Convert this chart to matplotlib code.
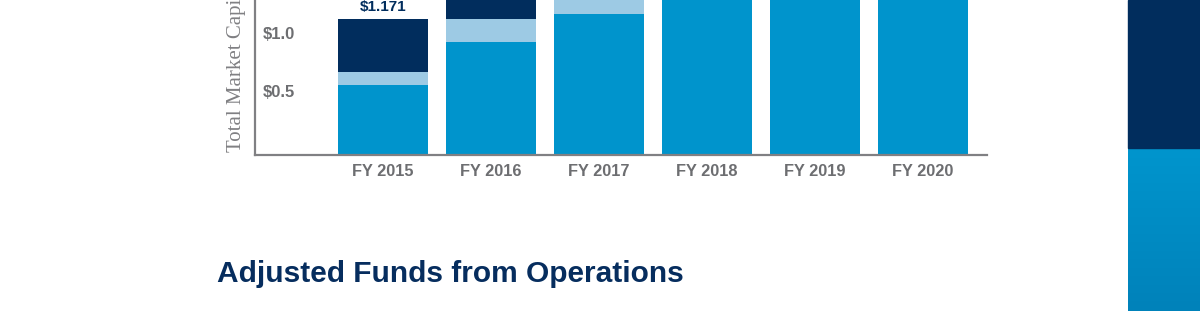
import matplotlib.pyplot as plt
import numpy as np
from matplotlib.patches import Rectangle
import matplotlib.transforms as mtransforms
from matplotlib.colors import LinearSegmentedColormap

# data (upper parts of FY2016+ are cut off in the source, so those are estimates)
years = ['FY 2015', 'FY 2016', 'FY 2017', 'FY 2018', 'FY 2019', 'FY 2020']
seg_base = [0.603, 0.977, 1.218, 1.45, 1.75, 2.05]
seg_mid = [0.112, 0.193, 0.20, 0.25, 0.28, 0.30]
seg_top = [0.456, 0.45, 0.55, 0.60, 0.70, 0.80]
yticks = [0.5, 1.0]
ytick_labels = ['$0.5', '$1.0']

navy = '#012d5d'
light = '#9dcae4'
blue = '#0094cc'
grey = '#6d6e71'

W, H = 1200, 311
fig = plt.figure(figsize=(W / 100, H / 100), dpi=100)

ax = fig.add_axes([254.7 / W, 1 - 155 / H, (986.7 - 254.7) / W, 155 / H])
x = np.arange(len(years))
base = np.array(seg_base)
mid = np.array(seg_mid)
top = np.array(seg_top)
ax.bar(x, base, width=0.833, color=blue, linewidth=0)
ax.bar(x, mid, bottom=base, width=0.833, color=light, linewidth=0)
ax.bar(x, top, bottom=base + mid, width=0.833, color=navy, linewidth=0)

totals = base + mid + top
for xi, t in zip(x, totals):
    if t < 1.3:
        ax.text(xi, t + 0.105, '$%.3f' % t, ha='center', va='center',
                color=navy, fontsize=11, fontweight='bold', family='Liberation Sans')

ax.set_xlim(-1.185, 5.594)
ax.set_ylim(0, 155 / 116)
ax.set_xticks(x)
ax.set_xticklabels(years, fontsize=11.8, fontweight='bold', color=grey, family='Liberation Sans')
ax.tick_params(axis='x', length=0, pad=6.5)
ax.set_yticks([])
trans = mtransforms.blended_transform_factory(ax.transAxes, ax.transData)
for v, lab in zip(yticks, ytick_labels):
    ax.text(8.3 / 732, v + 0.04, lab, transform=trans, ha='left', va='center',
            fontsize=12, fontweight='bold', color=grey, family='Liberation Sans')

for s in ['top', 'right']:
    ax.spines[s].set_visible(False)
for s in ['left', 'bottom']:
    ax.spines[s].set_color('#808083')
    ax.spines[s].set_linewidth(1.6)

fig.text(237 / W, 1 - 152 / H, 'Total Market Capitalization', rotation=90,
         ha='center', va='bottom', fontsize=15, color='#808083', family='Liberation Serif')

fig.text(217 / W, 1 - 282 / H, 'Adjusted Funds from Operations', ha='left', va='baseline',
         fontsize=21.5, fontweight='bold', color='#062d5e', family='Liberation Sans')

# side band
fig.patches.append(Rectangle((1128 / W, 1 - 148 / H), 72 / W, 148 / H,
                             transform=fig.transFigure, color=navy, zorder=0))
gax = fig.add_axes([1128 / W, 0, 72 / W, 1 - 148 / H])
grad = np.linspace(0, 1, 100).reshape(-1, 1)
cmap = LinearSegmentedColormap.from_list('band', ['#0095cd', '#0082ba'])
gax.imshow(grad, aspect='auto', cmap=cmap)
gax.axis('off')

fig.savefig('out.png', dpi=100)
